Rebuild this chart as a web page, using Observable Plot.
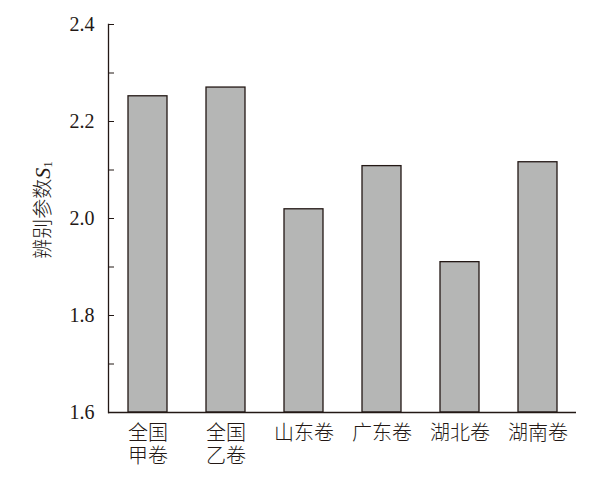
<!DOCTYPE html>
<html><head><meta charset="utf-8">
<script src="https://cdn.jsdelivr.net/npm/d3@7"></script>
<script src="https://cdn.jsdelivr.net/npm/@observablehq/plot@0.6"></script>
<style>
body{margin:0;background:#fff}
svg g[aria-label="y-axis tick label"] text{font-size:20px;font-family:'Liberation Serif',serif}
svg g[aria-label="x-axis tick label"] text{font-size:20px;font-family:'Noto Sans CJK SC',sans-serif;font-weight:300}
</style>
</head><body><div id="chart"></div>
<script>
const categories = ["全国甲卷","全国乙卷","山东卷","广东卷","湖北卷","湖南卷"];
const tickLabels = ["全国\n甲卷","全国\n乙卷","山东卷","广东卷","湖北卷","湖南卷"];
const values = [2.252, 2.270, 2.019, 2.108, 1.910, 2.116];
const majorTicks = [1.6, 1.8, 2.0, 2.2, 2.4];
const minorTicks = [1.7, 1.9, 2.1, 2.3];

const data = categories.map((c, i) => ({cat: c, v: values[i]}));
const labelOf = new Map(categories.map((c, i) => [c, tickLabels[i]]));

const chart = Plot.plot({
  width: 595, height: 482,
  marginLeft: 108, marginRight: 19, marginTop: 24, marginBottom: 70,
  style: {fontFamily: "'Liberation Serif', serif", color: "#231815", background: "#fff"},
  x: {domain: categories, paddingInner: 0.5, paddingOuter: 0.25},
  y: {domain: [1.6, 2.4]},
  marks: [
    Plot.barY(data, {x: "cat", y1: 1.6, y2: "v", fill: "#b5b6b5", stroke: "#231815", strokeWidth: 1.3}),
    Plot.axisY({ticks: majorTicks, tickFormat: d => d.toFixed(1), tickSize: -6, tickPadding: 20, label: null, stroke: "#231815"}),
    Plot.axisY({ticks: minorTicks, tickFormat: () => "", tickSize: -6, label: null, stroke: "#231815"}),
    Plot.frame({anchor: "left", stroke: "#231815", strokeWidth: 1.3}),
    Plot.ruleY([1.6], {stroke: "#231815", strokeWidth: 1.3}),
    Plot.axisX({tickSize: 0, tickPadding: 11, tickFormat: d => labelOf.get(d), label: null, lineHeight: 1.15, textAnchor: "middle", lineAnchor: "top"})
  ]
});
document.getElementById("chart").append(chart);

// y-axis title with italic S and subscript 1
const svg = d3.select(chart);
const t = svg.append("text")
  .attr("transform", "translate(45,210) rotate(-90)")
  .attr("text-anchor", "middle")
  .attr("dominant-baseline", "middle")
  .attr("fill", "#231815")
  .style("font-size", "20px")
  .style("font-family", "'Noto Sans CJK SC', sans-serif")
  .style("font-weight", 300);
t.append("tspan").text("辨别参数");
t.append("tspan").text("S").style("font-style", "italic").style("font-family", "'Liberation Serif', serif").style("font-size", "22px");
t.append("tspan").text("1").attr("dy", "0.3em").style("font-family", "'Liberation Serif', serif").style("font-size", "13px");
</script></body></html>
